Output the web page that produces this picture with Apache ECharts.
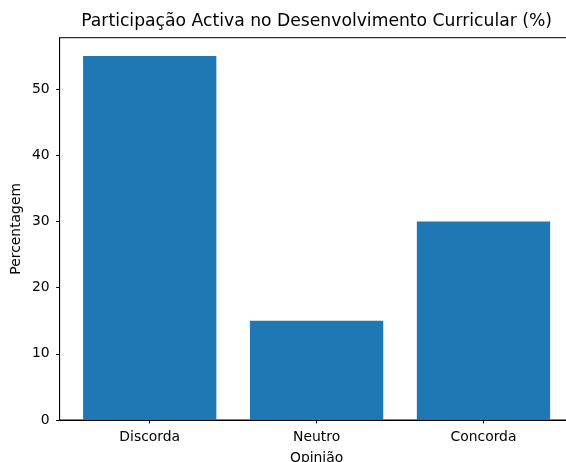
<!DOCTYPE html>
<html>
<head>
<meta charset="utf-8">
<script src="https://cdn.jsdelivr.net/npm/echarts@6/dist/echarts.min.js"></script>
<style>
  html, body { margin: 0; padding: 0; background: #fff; }
  #chart { width: 566px; height: 462px; }
</style>
</head>
<body>
<div id="chart"></div>
<script>
  // dados
  var categories = ['Discorda', 'Neutro', 'Concorda']
  var values = [55, 15, 30]
  var yTicks = [0, 10, 20, 30, 40, 50]

  var font = 'DejaVu Sans'
  var chart = echarts.init(document.getElementById('chart'))

  chart.setOption({
    animation: false,
    title: {
      text: 'Participação Activa no Desenvolvimento Curricular (%)',
      left: 311.6,
      textAlign: 'center',
      top: 8,
      textStyle: { fontFamily: font, fontSize: 17.2, fontWeight: 'normal', color: '#000' }
    },
    grid: {
      left: 59.6,
      top: 37.7,
      width: 514,
      bottom: 42,
      outerBoundsMode: 'none',
      containLabel: false,
      show: true,
      borderColor: '#000',
      borderWidth: 1
    },
    xAxis: {
      type: 'value',
      min: -0.54,
      max: 2.54,
      name: 'Opinião',
      nameLocation: 'middle',
      nameGap: 31,
      nameTextStyle: { fontFamily: font, fontSize: 13.9, color: '#000' },
      axisLine: { show: true, onZero: false, lineStyle: { color: '#000', width: 1 } },
      axisTick: { show: true, length: 3.5, customValues: [0, 1, 2], lineStyle: { color: '#000' } },
      axisLabel: {
        customValues: [0, 1, 2],
        margin: 10,
        fontFamily: font, fontSize: 13.9, color: '#000',
        formatter: function (v) { return categories[Math.round(v)] }
      },
      splitLine: { show: false }
    },
    yAxis: {
      type: 'value',
      min: 0,
      max: 57.75,
      name: 'Percentagem',
      nameLocation: 'middle',
      nameGap: 36,
      nameMoveOverlap: false,
      nameTextStyle: { fontFamily: font, fontSize: 13.9, color: '#000' },
      axisLine: { show: true, onZero: false, lineStyle: { color: '#000', width: 1 } },
      axisTick: { show: true, length: 3.5, customValues: yTicks, lineStyle: { color: '#000' } },
      axisLabel: {
        customValues: yTicks,
        margin: 10,
        fontFamily: font, fontSize: 13.9, color: '#000'
      },
      splitLine: { show: false }
    },
    series: [{
      type: 'bar',
      barWidth: 133.3,
      itemStyle: { color: '#1f77b4' },
      data: values.map(function (v, i) { return [i, v] })
    }]
  })
</script>
</body>
</html>
